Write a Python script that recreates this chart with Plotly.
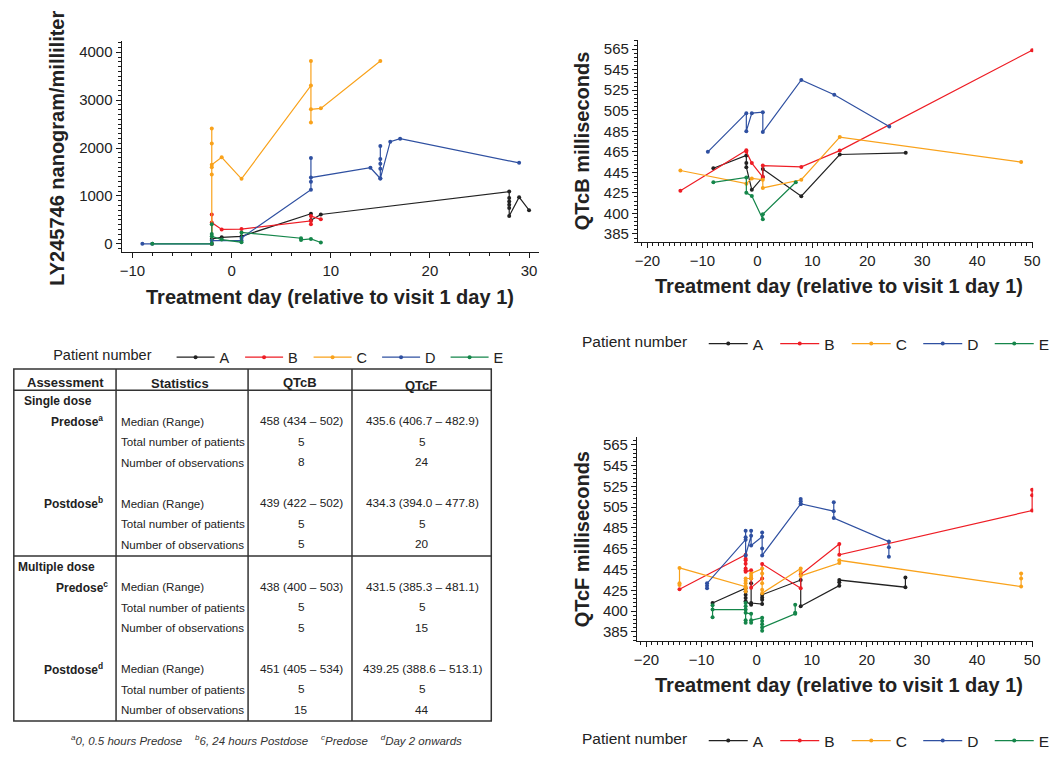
import plotly.graph_objects as go

W, H = 1062, 758
FONT = "Liberation Sans, Arial, Helvetica, sans-serif"
TXT = "#222222"

patients = ["A", "B", "C", "D", "E"]
colors = ["#222222", "#ee1d25", "#f9a21b", "#2f50a1", "#15864a"]

# ---------------- LY245746 concentration (ng/mL) ----------------
conc_day_A = [-2, -2, -1, 1, 8, 8, 9, 28, 28, 28, 28, 28, 28, 29, 30]
conc_val_A = [0, 102, 136, 157, 627, 491, 613, 1090, 954, 886, 818, 750, 579, 974, 702]
conc_day_B = [-2, -2, -2, -1, 1, 8, 8, 8, 9]
conc_val_B = [0, 613, 443, 300, 307, 477, 409, 579, 511]
conc_day_C = [-2, -2, -2, -2, -2, -2, -1, 1, 8, 8, 8, 8, 9, 15]
conc_val_C = [0, 2405, 2092, 1445, 1600, 1650, 1806, 1356, 3305, 3816, 2535, 2807, 2828, 3816]
conc_day_D = [-9, -8, -2, -2, 1, 1, 8, 8, 8, 8, 14, 15, 15, 15, 15, 15, 15, 16, 17, 29]
conc_val_D = [0, 0, 0, 68, 68, 123, 1131, 1792, 1295, 1383, 1588, 1363, 2044, 1772, 1670, 1567, 1363, 2133, 2194, 1690]
conc_day_E = [-8, -2, -2, -2, -2, -1, 1, 1, 7, 7, 8, 9]
conc_val_E = [0, 0, 409, 204, 157, 89, 34, 238, 116, 82, 102, 27]

# ---------------- QTcB (ms) ----------------
qtcb_day_A = [-8, -2, -2, -2, -1, 1, 1, 8, 15, 27]
qtcb_val_A = [449, 461.5, 454, 450, 428, 440.4, 448.3, 421.8, 462.4, 464]
qtcb_day_B = [-14, -2, -2, -1, 1, 1, 8, 15, 50]
qtcb_val_B = [427, 466.6, 465, 454, 440.4, 451.6, 450.3, 466.2, 564]
qtcb_day_C = [-14, -2, -1, 1, 1, 8, 15, 48]
qtcb_val_C = [446.8, 434, 439.1, 437.8, 429.8, 437.8, 479.4, 455]
qtcb_day_D = [-9, -2, -2, -1, 1, 1, 8, 14, 24]
qtcb_val_D = [465, 502.7, 485.1, 502.7, 503.6, 484.2, 535, 520.6, 489.6]
qtcb_day_E = [-8, -2, -2, -1, 1, 1, 7]
qtcb_val_E = [435.3, 440, 425, 421.9, 399.4, 404.2, 435.3]

# ---------------- QTcF (ms) ----------------
qtcf_day_A = [-8, -2, -2, -2, -2, -2, -1, -1, -1, 1, 1, 1, 1, 8, 8, 15, 15, 15, 27, 27]
qtcf_val_A = [412.8, 427, 423.8, 420.7, 417.5, 414.4, 411.2, 431.7, 412.8, 411.8, 416, 418.2, 420.7,
              434.9, 409.6, 429.5, 432.7, 434.9, 428, 437.4]
qtcf_day_B = [-14, -2, -2, -2, -2, -2, -2, -2, -1, -1, -1, 1, 1, 8, 8, 15, 15, 50, 50, 50]
qtcf_val_B = [426, 459.2, 455.4, 453.9, 450.7, 445.9, 444.4, 442.8, 444.4, 436.4, 427.6, 436.4, 450.4,
              427, 440.2, 469.6, 459.2, 501.8, 516.4, 521.7]
qtcf_day_C = [-14, -14, -14, -2, -2, -2, -2, -2, -2, -1, -1, -1, 1, 1, 1, 1, 1, 8, 8, 8, 15, 15, 48, 48, 48]
qtcf_val_C = [430.2, 431.7, 446.6, 428.6, 423.8, 427, 431.7, 434.3, 436.4, 436.4, 438.9, 441.2,
              445.9, 441.2, 431.7, 425.5, 422.3, 445.9, 442.8, 438.9, 451.3, 453.9, 428.6, 436.4, 441.2]
qtcf_day_D = [-9, -9, -9, -2, -2, -2, -2, -1, -1, -1, 1, 1, 1, 1, 8, 8, 8, 8, 14, 14, 14, 24, 24, 24]
qtcf_val_D = [427, 429.5, 431.7, 473.8, 482.3, 476, 458.6, 477.6, 482.3, 468.1, 476.6, 480.7, 465.2, 458.6,
              508.2, 512.9, 510.7, 508.2, 501.2, 509.8, 494.6, 471.9, 466.5, 457.3]
qtcf_day_E = [-8, -8, -8, -2, -2, -2, -2, -2, -2, -1, -1, -1, 1, 1, 1, 1, 1, 7, 7, 7]
qtcf_val_E = [399.2, 410.6, 406.5, 406.5, 412.8, 409.6, 393.8, 396.1, 403.3, 402.4, 393.8, 396.1,
              398.6, 395.4, 392.3, 386, 389.1, 402.4, 403.3, 411.2]

qt_tickvals = [385, 405, 425, 445, 465, 485, 505, 525, 545, 565]
qt_ticktext = ["385", "400", "425", "445", "465", "485", "505", "525", "545", "565"]

x_title = "Treatment day (relative to visit 1 day 1)"
conc_title = "LY245746 nanogram/milliliter"
qtcb_title = "QTcB milliseconds"
qtcf_title = "QTcF milliseconds"
legend_title = "Patient number"

# ---------------- Table content ----------------
table_headers = ["Assessment", "Statistics", "QTcB", "QTcF"]
section_labels = ["Single dose", "Multiple dose"]
group_labels = ["Predose<sup>a</sup>", "Postdose<sup>b</sup>", "Predose<sup>c</sup>", "Postdose<sup>d</sup>"]
stat_labels = ["Median (Range)", "Total number of patients", "Number of observations"]
qtcb_col = ["458 (434 – 502)", "5", "8", "439 (422 – 502)", "5", "5",
            "438 (400 – 503)", "5", "5", "451 (405 – 534)", "5", "15"]
qtcf_col = ["435.6 (406.7 – 482.9)", "5", "24", "434.3 (394.0 – 477.8)", "5", "20",
            "431.5 (385.3 – 481.1)", "5", "15", "439.25 (388.6 – 513.1)", "5", "44"]
footnote_parts = ["<sup>a</sup>0, 0.5 hours Predose", "<sup>b</sup>6, 24 hours Postdose",
                  "<sup>c</sup>Predose", "<sup>d</sup>Day 2 onwards"]

conc_days = [conc_day_A, conc_day_B, conc_day_C, conc_day_D, conc_day_E]
conc_vals = [conc_val_A, conc_val_B, conc_val_C, conc_val_D, conc_val_E]
qtcb_days = [qtcb_day_A, qtcb_day_B, qtcb_day_C, qtcb_day_D, qtcb_day_E]
qtcb_vals = [qtcb_val_A, qtcb_val_B, qtcb_val_C, qtcb_val_D, qtcb_val_E]
qtcf_days = [qtcf_day_A, qtcf_day_B, qtcf_day_C, qtcf_day_D, qtcf_day_E]
qtcf_vals = [qtcf_val_A, qtcf_val_B, qtcf_val_C, qtcf_val_D, qtcf_val_E]


def px(x):
    return x / W


def py(y):
    return 1 - y / H


fig = go.Figure()

panels = [
    (conc_days, conc_vals, "x", "y", "legend"),
    (qtcb_days, qtcb_vals, "x2", "y2", "legend2"),
    (qtcf_days, qtcf_vals, "x3", "y3", "legend3"),
]
for days, vals, xa, ya, lg in panels:
    for p, c, d, v in zip(patients, colors, days, vals):
        fig.add_trace(go.Scatter(
            x=d, y=v, name=p, mode="lines+markers",
            line=dict(color=c, width=1.2),
            marker=dict(color=c, size=4),
            xaxis=xa, yaxis=ya, legend=lg, showlegend=True,
        ))

tickfont = dict(size=15, color=TXT, family=FONT)


def axis(**kw):
    base = dict(showline=True, linecolor="#1a1a1a", linewidth=1.3, ticks="outside",
                ticklen=5, tickwidth=1.2, tickcolor="#1a1a1a", showgrid=False,
                zeroline=False, tickfont=tickfont, fixedrange=True)
    base.update(kw)
    return base


minor_x1 = dict(ticks="outside", ticklen=3, tickwidth=0.8, tickcolor="#1a1a1a", dtick=2, tick0=0, showgrid=False)
minor_y1 = dict(ticks="outside", ticklen=3, tickwidth=0.8, tickcolor="#1a1a1a", dtick=100, tick0=0, showgrid=False)
minor_xr = dict(ticks="outside", ticklen=3, tickwidth=0.8, tickcolor="#1a1a1a", dtick=1, tick0=0, showgrid=False)
minor_yr = dict(ticks="outside", ticklen=3, tickwidth=0.8, tickcolor="#1a1a1a", dtick=4, tick0=385, showgrid=False)

fig.update_layout(
    xaxis=axis(domain=[px(120.7), px(545)], range=[-11.09, 30.98], dtick=10, tick0=0,
               anchor="y", minor=minor_x1),
    yaxis=axis(domain=[py(255), py(41)], range=[-170, 4227], dtick=1000, tick0=0,
               tickformat="d", anchor="x", minor=minor_y1),
    xaxis2=axis(domain=[px(646), px(1048)], range=[-21.7, 50.2], dtick=10, tick0=0,
                anchor="y2", minor=minor_xr),
    yaxis2=axis(domain=[py(245), py(40)], range=[377.0, 573.6], tickmode="array",
                tickvals=qt_tickvals, ticktext=qt_ticktext, anchor="x2", minor=minor_yr),
    xaxis3=axis(domain=[px(645), px(1048)], range=[-21.7, 50.2], dtick=10, tick0=0,
                anchor="y3", minor=minor_xr),
    yaxis3=axis(domain=[py(650), py(443)], range=[376.5, 572.6], tickmode="array",
                tickvals=qt_tickvals, ticktext=qt_ticktext, anchor="x3", minor=minor_yr),
)


def legend_cfg(x, y, size, nbsp, itemwidth, entrywidth):
    f = dict(size=size, color=TXT, family=FONT)
    return dict(x=px(x), y=py(y), orientation="h", xanchor="left", yanchor="middle",
                font=f, title=dict(text=legend_title + "\u00a0" * nbsp, side="left", font=f),
                itemwidth=itemwidth, entrywidth=entrywidth, entrywidthmode="pixels",
                bgcolor="rgba(0,0,0,0)", itemclick=False, itemdoubleclick=False)


fig.update_layout(
    legend=legend_cfg(49, 362, 14.5, 3, 38, 15.5),
    legend2=legend_cfg(587, 348.5, 15.5, 2, 39, 17.5),
    legend3=legend_cfg(587, 752, 15.5, 2, 39, 17.5),
)

ann = []
DY = 2.5


def add_text(text, x, y, size, xanchor="center", angle=0, color=TXT, dy=DY):
    ann.append(dict(text=text, x=px(x), y=py(y + dy), xref="paper", yref="paper",
                    showarrow=False, xanchor=xanchor, yanchor="middle", textangle=angle,
                    font=dict(size=size, family=FONT, color=color)))


# axis titles
add_text("<b>" + x_title + "</b>", 333, 298, 20)
add_text("<b>" + x_title + "</b>", 850, 287, 20)
add_text("<b>" + x_title + "</b>", 850, 693, 20)
add_text("<b>" + conc_title + "</b>", 55, 150, 20, angle=-90, dy=0)
add_text("<b>" + qtcb_title + "</b>", 589, 142.5, 20, angle=-90, dy=0)
add_text("<b>" + qtcf_title + "</b>", 589, 547, 20, angle=-90, dy=0)

# table geometry (pixels)
T_L, T_R, T_T, T_B = 11, 496.7, 374, 731.7
col_x = [115, 249.3, 355]
hdr_bottom = 395.5
sep_y = 564
hdr_x = [63.3, 180, 302, 425.5]
hdr_y = [385.5, 386, 385.5, 388]
for h, x, y in zip(table_headers, hdr_x, hdr_y):
    add_text("<b>" + h + "</b>", x, y, 13)

add_text("<b>" + section_labels[0] + "</b>", 19.7, 404.3, 12, xanchor="left")
add_text("<b>" + section_labels[1] + "</b>", 13.7, 572.3, 12, xanchor="left")

group_y = [424.3, 507.7, 592.7, 676]
group_right = [104, 104, 109, 104]
row_step = [0, 20.8, 41.7]
for g, gy, gr in zip(group_labels, group_y, group_right):
    add_text("<b>" + g + "</b>", gr, gy, 12, xanchor="right")

k = 0
for gy in group_y:
    for s, dy in zip(stat_labels, row_step):
        y = gy + dy
        add_text(s, 118, y, 11.6, xanchor="left")
        add_text(qtcb_col[k], 303.5, y, 11.8)
        add_text(qtcf_col[k], 426.5, y, 11.8)
        k += 1

add_text("<i>" + ("\u00a0" * 4).join(footnote_parts) + "</i>", 268, 748.3, 11.5, color="#333333")

fig.update_layout(annotations=ann)

shape_line = dict(color="#333333", width=1.5)
shapes = [dict(type="rect", xref="paper", yref="paper", x0=px(T_L), x1=px(T_R),
               y0=py(T_B), y1=py(T_T), line=shape_line)]
for cx in col_x:
    shapes.append(dict(type="line", xref="paper", yref="paper", x0=px(cx), x1=px(cx),
                       y0=py(T_B), y1=py(T_T), line=shape_line))
for hy in [hdr_bottom, sep_y]:
    shapes.append(dict(type="line", xref="paper", yref="paper", x0=px(T_L), x1=px(T_R),
                       y0=py(hy), y1=py(hy), line=shape_line))
fig.update_layout(shapes=shapes)

fig.update_layout(
    width=W, height=H, margin=dict(l=0, r=0, t=0, b=0),
    paper_bgcolor="white", plot_bgcolor="white",
    font=dict(family=FONT, color=TXT),
)

fig.write_html("out.html", config={"displayModeBar": False})
